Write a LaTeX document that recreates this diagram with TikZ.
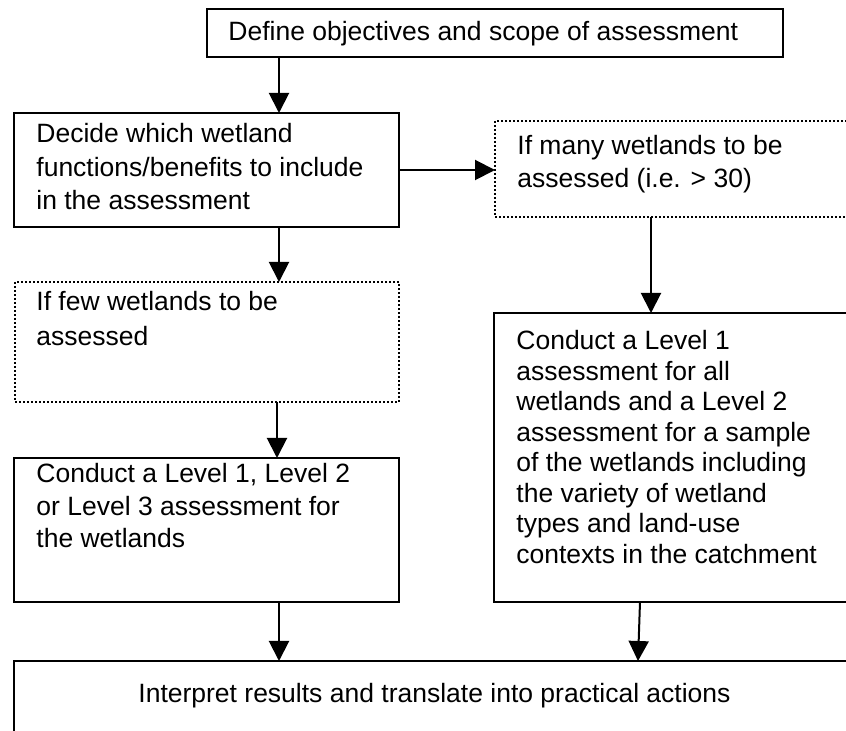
\documentclass[tikz,border=0pt]{standalone}
\usepackage{fontspec}
\setmainfont{Liberation Sans}
\usetikzlibrary{arrows.meta}
\newcommand\linesp[1]{\fontsize{13.25pt}{#1}\selectfont}
\tikzset{
  box/.style={draw=black, line width=1pt, rectangle, inner sep=0pt, outer sep=0pt, anchor=north west},
  dotbox/.style={box, dash pattern=on 1pt off 1pt},
  txt/.style={anchor=base west, inner sep=0pt, font=\linesp{16pt}},
  arr/.style={line width=1pt, -{Triangle[length=10pt,width=10pt]}}
}
\begin{document}
\begin{tikzpicture}[x=0.5pt,y=-0.5pt]
\useasboundingbox (0,0) rectangle (846,731);
\clip (0,0) rectangle (846,731);
% boxes
\node[box, minimum width=288pt, minimum height=24pt] (b1) at (207,9) {};
\node[box, minimum width=192.5pt, minimum height=57pt] (b2) at (14,113) {};
\node[dotbox, minimum width=190pt, minimum height=48pt] (b3) at (495,121) {};
\node[dotbox, minimum width=192pt, minimum height=60pt] (b4) at (15,282) {};
\node[box, minimum width=193pt, minimum height=144.5pt] (b5) at (494,313) {};
\node[box, minimum width=192.5pt, minimum height=72pt] (b6) at (14,458) {};
\node[box, minimum width=421pt, minimum height=50pt] (b7) at (14,661) {};
% texts
\node[txt] (t1) at (228,41) {Define objectives and scope of assessment};
\node[txt] (t2) at (36,143) {\parbox[t]{200pt}{\linesp{16.6pt}Decide which wetland\\functions/benefits to include\\in the assessment}};
\node[txt] (t3) at (517,155) {\parbox[t]{200pt}{\linesp{16.5pt}If many wetlands to be\\assessed (i.e. > 30)}};
\node[txt] (t4) at (36,311) {\parbox[t]{200pt}{\linesp{17.5pt}If few wetlands to be\\assessed}};
\node[txt] (t5) at (516,350) {\parbox[t]{200pt}{\linesp{15.25pt}Conduct a Level 1\\assessment for all\\wetlands and a Level 2\\assessment for a sample\\of the wetlands including\\the variety of wetland\\types and land-use\\contexts in the catchment}};
\node[txt] (t6) at (36,483) {\parbox[t]{200pt}{\linesp{16.25pt}Conduct a Level 1, Level 2\\or Level 3 assessment for\\the wetlands}};
\node[txt] (t7) at (138,702) {Interpret results and translate into practical actions};
% connectors
\draw[arr] ([xshift=36pt]b1.south west) -- ([xshift=132.5pt]b2.north west);
\draw[arr] (b2.east) -- (b2.east -| b3.west);
\draw[arr] ([xshift=78pt]b3.south west) -- ([xshift=78.5pt]b5.north west);
\draw[arr] ([xshift=132.5pt]b2.south west) -- ([xshift=132pt]b4.north west);
\draw[arr] ([xshift=131pt]b4.south west) -- ([xshift=131.5pt]b6.north west);
\draw[arr] ([xshift=132.5pt]b6.south west) -- ([xshift=132.5pt]b7.north west);
\draw[arr] ([xshift=73pt]b5.south west) -- ([xshift=312pt]b7.north west);
\end{tikzpicture}
\end{document}
